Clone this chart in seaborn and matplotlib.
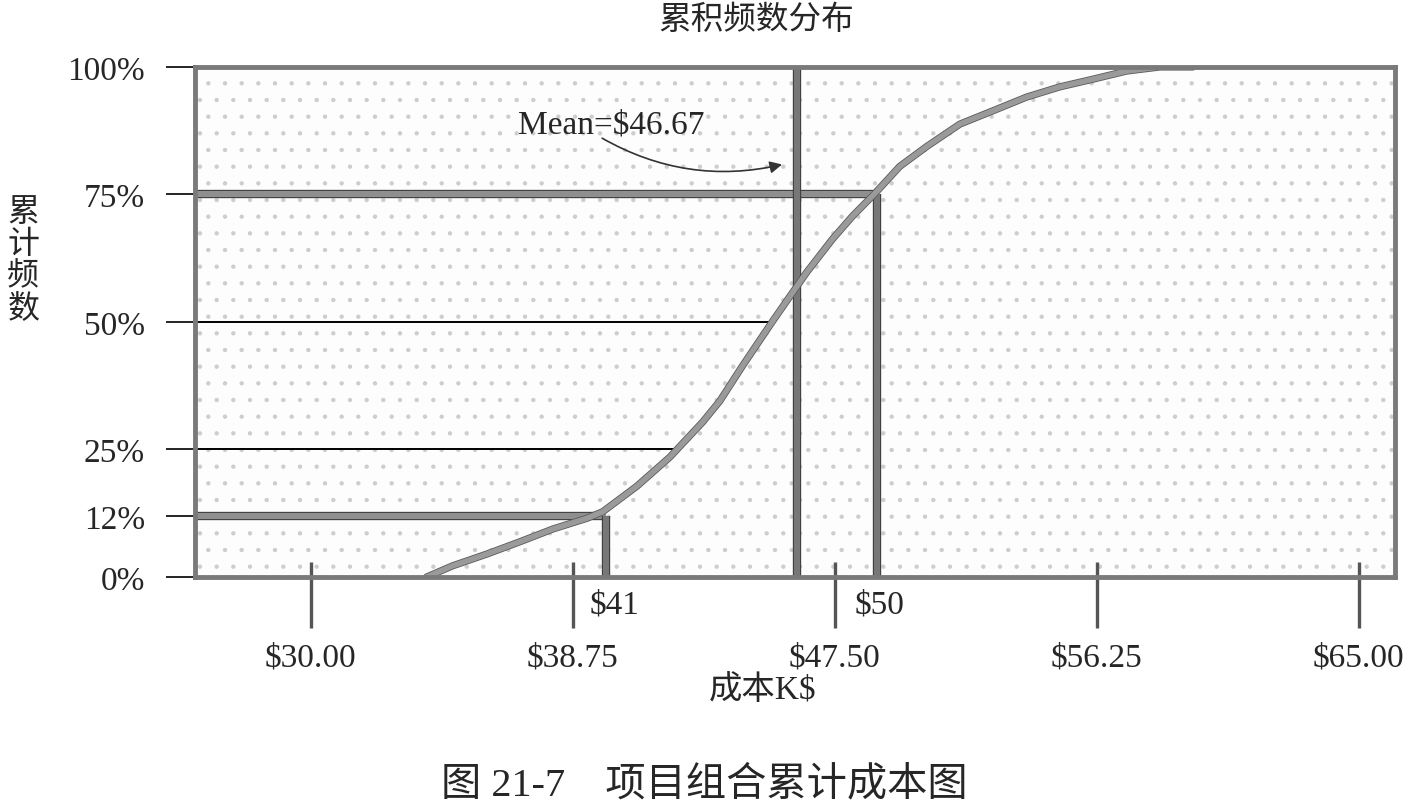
import numpy as np
import pandas as pd
import matplotlib
matplotlib.use("Agg")
import matplotlib.pyplot as plt
import matplotlib.patheffects as pe
from matplotlib.patches import Rectangle
import seaborn as sns

# cumulative curve (cost in K$, cumulative %)
cost = [33.87, 34.74, 35.88, 36.98, 38.08, 39.22, 39.75, 40.89, 41.99, 43.09,
        43.66, 44.43, 45.43, 46.07, 46.57, 47.43, 48.10, 48.84, 49.67, 50.57,
        51.68, 52.78, 53.91, 55.02, 56.12, 57.25, 58.36, 59.46]
cum_pct = [0, 2.2, 4.5, 6.9, 9.4, 11.5, 12.8, 17.8, 23.5, 30.4,
           34.5, 41.5, 50.2, 55.6, 59.8, 66.3, 70.8, 75.2, 80.5, 84.4,
           88.8, 91.4, 94.1, 96.1, 97.6, 99.2, 100, 100]

# marker lines (position on the drawn axis, height in %)
p12_cost, p12_pct = 39.85, 12
mean_cost = 46.23
p75_cost, p75_pct = 48.9, 75
p50_end, p25_end = 45.43, 42.22

x_ticks = [30, 38.75, 47.5, 56.25, 65]
x_labels = ["$30.00", "$38.75", "$47.50", "$56.25", "$65.00"]
y_ticks = [0, 12, 25, 50, 75, 100]
y_labels = ["0%", "12%", "25%", "50%", "75%", "100%"]

sns.set_theme(style="white")
plt.rcParams["font.family"] = ["Liberation Serif", "Noto Sans CJK SC"]
plt.rcParams["hatch.linewidth"] = 0.7

fig = plt.figure(figsize=(14.09, 8.12), dpi=100)
ax = fig.add_axes([0.1384, 0.2882, 0.8516, 0.6281])

# stippled background
ax.add_patch(Rectangle((0, 0), 1, 1, transform=ax.transAxes, facecolor="#fdfdfd",
                       hatch=".", edgecolor="#cdcdcd", linewidth=0, zorder=0))

df = pd.DataFrame({"cost": cost, "cum": cum_pct})

outline = [pe.Stroke(linewidth=6, foreground="#3a3a3a"), pe.Normal()]

# thin guide lines
ax.hlines([50, 25], 26.13, [p50_end, p25_end], color="black", lw=1.4, zorder=2)
# thick guide lines
ax.hlines([p75_pct, p12_pct], 26.13, [p75_cost, p12_cost], color="#8f8f8f", lw=4.5,
          zorder=3, path_effects=outline)
ax.vlines([p12_cost, p75_cost], 0, [p12_pct, p75_pct], color="#777777", lw=4.5,
          zorder=3, path_effects=outline)
ax.vlines([mean_cost], 0, 100, color="#777777", lw=4.5, zorder=3, path_effects=outline)

sns.lineplot(data=df, x="cost", y="cum", ax=ax, color="#9a9a9a", lw=4, zorder=4,
             solid_joinstyle="round", solid_capstyle="round",
             path_effects=[pe.Stroke(linewidth=5.2, foreground="#5a5a5a",
                                     joinstyle="round"), pe.Normal()])

ax.set_xlim(26.13, 66.21)
ax.set_ylim(0, 100)
ax.set_xlabel("")
ax.set_ylabel("")

ax.set_xticks(x_ticks)
ax.set_xticklabels(x_labels, fontsize=24)
ax.set_xticks(x_ticks, minor=True)
ax.xaxis.remove_overlapping_locs = False
ax.tick_params(axis="x", which="major", direction="out", length=37, width=2.4,
               color="#555555", pad=10, bottom=True)
ax.tick_params(axis="x", which="minor", direction="in", length=11, width=2.4,
               color="#555555", bottom=True)
ax.set_yticks(y_ticks)
ax.set_yticklabels(y_labels, fontsize=24)
ax.tick_params(axis="y", direction="out", length=21, width=1.2, color="black",
               pad=15, left=True)

for s in ax.spines.values():
    s.set_color("#7a7a7a")
    s.set_linewidth(3.5)
    s.set_zorder(5)

# annotations
ax.text(36.91, 88.8, "Mean=$46.67", fontsize=24, va="center", ha="left", zorder=6)
ax.annotate("", xy=(45.83, 81.0), xytext=(39.65, 86.3),
            arrowprops=dict(arrowstyle="-|>", connectionstyle="arc3,rad=0.2",
                            color="#333333", lw=1.2, mutation_scale=18), zorder=6)
ax.text(40.15, -5.3, "$41", fontsize=24, ha="center", va="center", clip_on=False)
ax.text(49.0, -5.3, "$50", fontsize=24, ha="center", va="center", clip_on=False)

fig.text(0.537, 0.974, "累积频数分布", fontsize=23.5, ha="center", va="center")
fig.text(0.541, 0.150, "成本K$", fontsize=24, ha="center", va="center")
fig.text(0.0165, 0.677, "累\n计\n频\n数", fontsize=23, ha="center", va="center",
         linespacing=1.12)
fig.text(0.5, 0.032, "图 21-7　项目组合累计成本图", fontsize=29, ha="center", va="center")

fig.savefig("out.png", dpi=100)
